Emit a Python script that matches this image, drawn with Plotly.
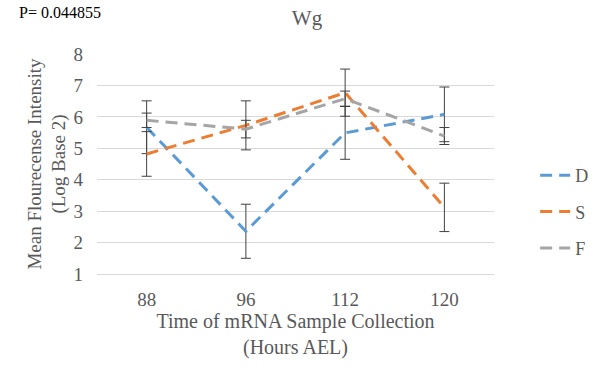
import plotly.graph_objects as go

# Sample collection times (hours AEL)
times = ["88", "96", "112", "120"]

# Mean fluorescence intensity (log base 2) per group
d_mean = [5.67, 2.36, 5.49, 6.08]
s_mean = [4.82, 5.73, 6.77, 3.12]
f_mean = [5.89, 5.61, 6.58, 5.39]

# Error bar half-widths
d_err = [0.84, 0.86, 0.84, 0.87]
s_err = [0.71, 0.78, 0.75, 0.77]
f_err = [0.23, 0.28, 0.24, 0.27]

series = [
    ("D", d_mean, d_err, "#5B9BD5"),
    ("S", s_mean, s_err, "#ED7D31"),
    ("F", f_mean, f_err, "#A5A5A5"),
]

FONT = "Liberation Serif, Times New Roman, serif"
TXT = "#595959"
GRID = "#D9D9D9"

fig = go.Figure()
for name, mean, err, color in series:
    fig.add_trace(go.Scatter(
        x=times, y=mean, name=name, mode="lines",
        legendgroup=name,
        line=dict(color=color, width=3, dash="12px,7px"),
        error_y=dict(type="data", array=err, visible=True,
                     color="#404040", thickness=1, width=5),
    ))

fig.update_layout(
    width=605, height=368,
    margin=dict(l=97, r=103, t=54, b=94),
    paper_bgcolor="white", plot_bgcolor="white",
    font=dict(family=FONT, color=TXT, size=18),
    title=dict(text="Wg", x=307 / 605, xanchor="center", y=1 - 18 / 368,
               yanchor="middle", font=dict(size=21, color=TXT, family=FONT)),
    legend=dict(x=(544 - 97) / 405, xanchor="left", y=(274 - 157) / 220,
                yanchor="top", font=dict(size=18, color=TXT, family=FONT),
                tracegroupgap=10, bgcolor="rgba(0,0,0,0)"),
    showlegend=True,
)

fig.update_xaxes(
    type="category", range=[-0.5, 3.5],
    showgrid=False, zeroline=False, ticks="",
    showline=True, linecolor=GRID, linewidth=1,
    ticklabelstandoff=8,
    tickfont=dict(size=19, color=TXT, family=FONT),
    title=dict(text="Time of mRNA Sample Collection<br>(Hours AEL)",
               font=dict(size=20, color=TXT, family=FONT), standoff=2),
)
fig.update_yaxes(
    range=[1, 8], dtick=1, tick0=1,
    showgrid=True, gridcolor=GRID, gridwidth=1,
    showline=False, zeroline=False, ticks="",
    ticklabelstandoff=13,
    tickfont=dict(size=19, color=TXT, family=FONT),
    title=dict(text="Mean Flourecense Intensity<br>(Log Base 2)",
               font=dict(size=19, color=TXT, family=FONT), standoff=2),
)

fig.add_annotation(
    text="P= 0.044855", xref="paper", yref="paper",
    x=-82 / 405, xanchor="left", y=1 + (54 - 12) / 220, yanchor="middle",
    showarrow=False, font=dict(size=16, color="#000000", family=FONT),
)

fig.write_html("out.html")
